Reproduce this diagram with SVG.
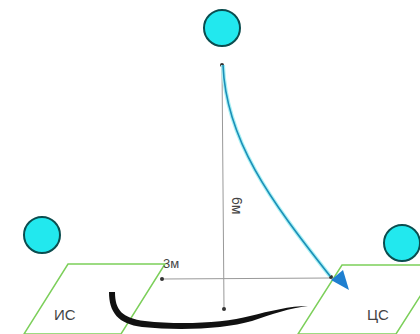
<svg xmlns="http://www.w3.org/2000/svg" width="420" height="334" viewBox="0 0 420 334">
<style>
.node circle{fill:#22e8ee;stroke:#0b4d4f;stroke-width:2}
.pad{fill:none;stroke:#7ccf5a;stroke-width:1.5}
.lbl{font-family:"Liberation Sans",Arial,sans-serif;fill:#444}
.dim{stroke:#999;stroke-width:1;fill:none}
.dot{fill:#333}
</style>
<rect width="420" height="334" fill="#fff"/>
<g id="pad-left"><polygon class="pad" points="68,264 165,264 121,334 24,334"/><text class="lbl" x="54" y="320" font-size="15">ИС</text></g>
<g id="pad-right"><polygon class="pad" points="342,265 440,265 396,334 298,334"/><text class="lbl" x="367" y="320" font-size="15">ЦС</text></g>
<g id="sat-top" class="node"><circle cx="222" cy="28" r="18"/></g>
<g id="sat-left" class="node"><circle cx="42" cy="235" r="18"/></g>
<g id="sat-right" class="node"><circle cx="402" cy="243" r="18"/></g>
<g id="connectors">
<line class="dim" x1="222" y1="65" x2="224" y2="309"/>
<line class="dim" x1="162" y1="279" x2="331" y2="278"/>
<circle class="dot" cx="222" cy="65" r="2"/>
<circle class="dot" cx="224" cy="309" r="2"/>
<circle class="dot" cx="162" cy="279" r="2"/>
<circle class="dot" cx="331" cy="277" r="2"/>
<path d="M223,65 C226,140 270,200 330,276" fill="none" stroke="#a8f0f4" stroke-width="4"/>
<path d="M223,65 C226,140 270,200 330,276" fill="none" stroke="#1b8fb8" stroke-width="1.6"/>
<polygon points="349,290 343,270 331,280" fill="#1e7fd0"/>
<path d="M109,292 C109,312 118,324 142,327 C180,331 225,329 252,321 C272,314 290,308 308,306 C290,306 270,311 250,316 C225,323 180,325 145,321 C122,318 115,310 115,292 Z" fill="#111"/>
</g>
<text class="lbl" x="163" y="268" font-size="13" fill="#333">3м</text>
<text class="lbl" x="0" y="0" font-size="14" fill="#555" transform="translate(232,197) rotate(90)">6м</text>
</svg>
